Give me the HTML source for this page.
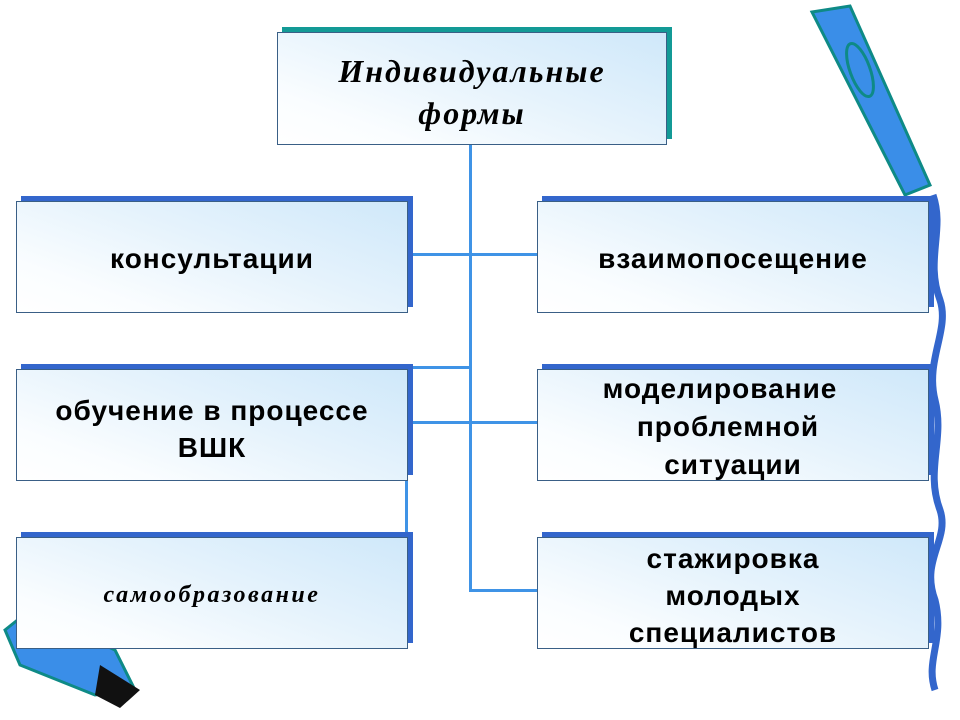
<!DOCTYPE html>
<html><head><meta charset="utf-8"><style>
body{margin:0;width:960px;height:720px;background:#fff;position:relative;overflow:hidden;font-family:"Liberation Sans",sans-serif}
.sh{position:absolute;background:#3366cc}
.b{position:absolute;border:1px solid #3a5f86;background:linear-gradient(200deg,#cfe8fa 0%,#e6f3fc 45%,#fafdff 80%,#ffffff 100%);box-sizing:border-box}
.t{position:absolute;font-weight:bold;font-size:28px;letter-spacing:1px;color:#000;text-align:center;line-height:37px;white-space:nowrap}
.ln{position:absolute;background:#3f93e6}
.s{font-family:"Liberation Serif",serif;font-style:italic;font-weight:bold}
</style></head><body>
<svg style="position:absolute;left:0;top:0" width="960" height="720">
<path d="M933 195 C945 230 925 260 940 300 C950 330 925 360 935 400 C945 440 925 470 940 510 C950 540 920 560 935 600 C945 640 925 660 935 690" fill="none" stroke="#3366cc" stroke-width="7"/>
<polygon points="812,12 850,6 930,185 905,195" fill="#3a8ee8" stroke="#0e8a86" stroke-width="3"/>
<ellipse cx="860" cy="70" rx="10" ry="28" fill="none" stroke="#0e8a86" stroke-width="3" transform="rotate(-20 860 70)"/>
<polygon points="5,630 30,610 115,650 135,690 95,695 20,665" fill="#3a8ee8" stroke="#0e8a86" stroke-width="3"/>
<polygon points="100,665 140,690 120,708 95,695" fill="#111"/>
</svg>
<div class="ln" style="left:469px;top:144px;width:3px;height:448px"></div>
<div class="ln" style="left:408px;top:253px;width:129px;height:3px"></div>
<div class="ln" style="left:408px;top:366px;width:63px;height:3px"></div>
<div class="ln" style="left:408px;top:421px;width:129px;height:3px"></div>
<div class="ln" style="left:469px;top:589px;width:68px;height:3px"></div>
<div class="ln" style="left:405px;top:478px;width:3px;height:60px"></div>

<div class="sh" style="left:282px;top:27px;width:390px;height:112px;background:#139a96"></div>
<div class="b" style="left:277px;top:32px;width:390px;height:113px"></div>
<div class="t s" style="left:277px;top:50px;width:390px;font-size:32px;line-height:42px;letter-spacing:2px">Индивидуальные<br>формы</div>

<div class="sh" style="left:21px;top:196px;width:392px;height:111px"></div>
<div class="b" style="left:16px;top:201px;width:392px;height:112px"></div>
<div class="t" style="left:16px;top:240px;width:392px">консультации</div>

<div class="sh" style="left:21px;top:364px;width:392px;height:111px"></div>
<div class="b" style="left:16px;top:369px;width:392px;height:112px"></div>
<div class="t" style="left:16px;top:392px;width:392px">обучение в процессе<br>ВШК</div>

<div class="sh" style="left:21px;top:532px;width:392px;height:111px"></div>
<div class="b" style="left:16px;top:537px;width:392px;height:112px"></div>
<div class="t s" style="left:16px;top:577px;width:392px;font-size:24px;letter-spacing:2.5px">самообразование</div>

<div class="sh" style="left:542px;top:196px;width:392px;height:111px"></div>
<div class="b" style="left:537px;top:201px;width:392px;height:112px"></div>
<div class="t" style="left:537px;top:240px;width:392px">взаимопосещение</div>

<div class="sh" style="left:542px;top:364px;width:392px;height:111px"></div>
<div class="b" style="left:537px;top:369px;width:392px;height:112px"></div>
<div class="t" style="left:520px;top:370px;width:400px">моделирование</div>
<div class="t" style="left:528px;top:408px;width:400px">проблемной</div>
<div class="t" style="left:533px;top:446px;width:400px">ситуации</div>

<div class="sh" style="left:542px;top:532px;width:392px;height:111px"></div>
<div class="b" style="left:537px;top:537px;width:392px;height:112px"></div>
<div class="t" style="left:537px;top:540px;width:392px">стажировка<br>молодых<br>специалистов</div>
</body></html>
